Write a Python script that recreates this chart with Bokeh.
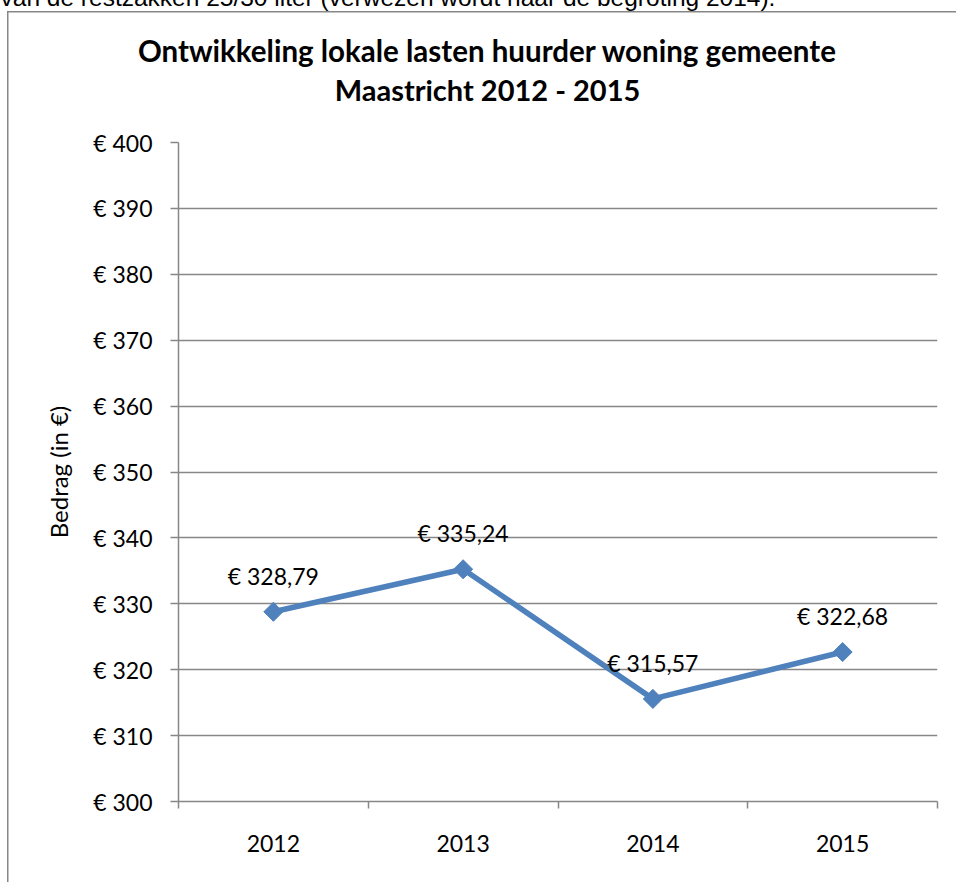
from bokeh.plotting import figure
from bokeh.models import Range1d, FixedTicker, ColumnDataSource, LabelSet, Label
from bokeh.core.properties import value
from bokeh.embed import file_html
from bokeh.resources import INLINE

# ---- data ----
years = ["2012", "2013", "2014", "2015"]
amounts = [328.79, 335.24, 315.57, 322.68]
y_ticks = [300, 310, 320, 330, 340, 350, 360, 370, 380, 390, 400]
title_lines = ["Ontwikkeling lokale lasten huurder woning gemeente", "Maastricht 2012 - 2015"]
y_axis_title = "Bedrag (in \u20ac)"
top_text = "van de restzakken 25/30 liter (verwezen wordt naar de begroting 2014)."

# ---- styling ----
BLUE = "#4F81BD"
GRAY = "#878787"
FONT = "Lato"

x_pos = [i + 0.5 for i in range(len(years))]
labels = ["\u20ac " + f"{v:.2f}".replace(".", ",") for v in amounts]
source = ColumnDataSource(dict(x=x_pos, y=amounts, label=labels))

# chart-area border (only its left and top edges fall inside the window)
border_css = ("linear-gradient(#878787, #878787) 7px 11px / 1.5px 2000px no-repeat, "
              "linear-gradient(#878787, #878787) 7px 11px / 2000px 1.5px no-repeat, #ffffff")

p = figure(width=956, height=882, output_backend="svg", toolbar_location=None,
           x_range=Range1d(0, len(years)), y_range=Range1d(y_ticks[0], y_ticks[-1]),
           min_border_left=178, min_border_right=19, min_border_top=142, min_border_bottom=81,
           styles={"background": border_css})
p.outline_line_color = None
p.background_fill_color = "white"
p.border_fill_color = None
p.xgrid.visible = False
p.ygrid.grid_line_color = GRAY
p.ygrid.grid_line_width = 1.5

# y axis
p.yaxis.ticker = FixedTicker(ticks=y_ticks)
p.yaxis.major_label_overrides = {t: "\u20ac " + str(t) for t in y_ticks}
p.yaxis.major_tick_out = 8
p.yaxis.major_tick_in = 0
p.yaxis.minor_tick_out = 0
p.yaxis.minor_tick_in = 0
p.yaxis.axis_line_color = GRAY
p.yaxis.axis_line_width = 1.5
p.yaxis.major_tick_line_color = GRAY
p.yaxis.major_tick_line_width = 1.5
p.yaxis.major_label_text_font = FONT
p.yaxis.major_label_text_font_size = "23px"
p.yaxis.major_label_text_color = "black"
p.yaxis.major_label_standoff = 18
p.yaxis.axis_label = y_axis_title
p.yaxis.axis_label_text_font = FONT
p.yaxis.axis_label_text_font_size = "24px"
p.yaxis.axis_label_text_font_style = "normal"
p.yaxis.axis_label_text_color = "black"
p.yaxis.axis_label_standoff = 17

# x axis: labels at category centres, ticks at category boundaries
p.xaxis.ticker = FixedTicker(ticks=x_pos, minor_ticks=list(range(len(years) + 1)))
p.xaxis.major_label_overrides = {x: y for x, y in zip(x_pos, years)}
p.xaxis.major_tick_out = 0
p.xaxis.major_tick_in = 0
p.xaxis.minor_tick_out = 7
p.xaxis.minor_tick_in = 0
p.xaxis.minor_tick_line_color = GRAY
p.xaxis.minor_tick_line_width = 1.5
p.xaxis.axis_line_color = GRAY
p.xaxis.axis_line_width = 1.5
p.xaxis.major_label_text_font = FONT
p.xaxis.major_label_text_font_size = "23px"
p.xaxis.major_label_text_color = "black"
p.xaxis.major_label_standoff = 26

# series
p.line("x", "y", source=source, line_color=BLUE, line_width=5.5)
p.scatter("x", "y", source=source, marker="square", angle=0.785398, size=13.5,
          fill_color=BLUE, line_color=BLUE)
p.add_layout(LabelSet(x="x", y="y", text="label", source=source, y_offset=27,
                      text_align="center", text_baseline="alphabetic",
                      text_font=value(FONT), text_font_size=value("23px"), text_color="black"))

# title
for txt, yb, fs in zip(title_lines, [50, 89], ["29.5px", "29px"]):
    p.add_layout(Label(x=487, y=yb, x_units="canvas", y_units="canvas", text=txt,
                       text_align="center", text_baseline="alphabetic",
                       text_font=FONT, text_font_style="bold", text_font_size=fs,
                       text_color="black"), "above")

# cut-off document text above the chart
p.add_layout(Label(x=0, y=-3, x_units="canvas", y_units="canvas", text=top_text,
                   text_align="left", text_baseline="alphabetic",
                   text_font="Liberation Sans", text_font_size="24.5px",
                   text_color="black"), "above")

open("out.html", "w").write(file_html(p, INLINE))
